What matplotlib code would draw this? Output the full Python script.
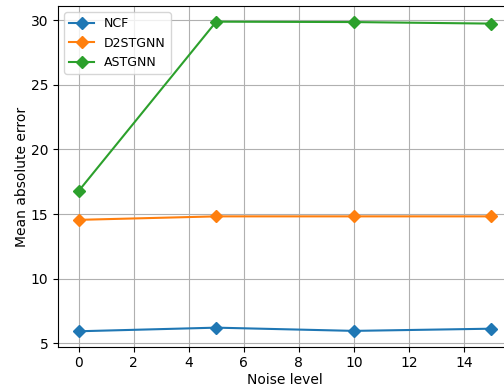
import matplotlib
matplotlib.use('Agg')
import matplotlib.pyplot as plt

NOISE = [0, 5, 10, 15]
NCF = [5.92, 6.2, 5.95, 6.12]
D2STGNN = [14.55, 14.82, 14.82, 14.82]
ASTGNN = [16.78, 29.9, 29.87, 29.75]

fig = plt.figure(figsize=(5.04, 3.87), dpi=100)
ax = fig.add_axes([0.115, 0.104, 0.901, 0.880])

ax.plot(NOISE, NCF, marker='D', label='NCF')
ax.plot(NOISE, D2STGNN, marker='D', label='D2STGNN')
ax.plot(NOISE, ASTGNN, marker='D', label='ASTGNN')

ax.set_xlabel('Noise level', labelpad=2)
ax.set_ylabel('Mean absolute error', labelpad=1)
ax.grid(True)
ax.legend(loc='upper left', fontsize=9)

fig.savefig('out.png', dpi=100)
